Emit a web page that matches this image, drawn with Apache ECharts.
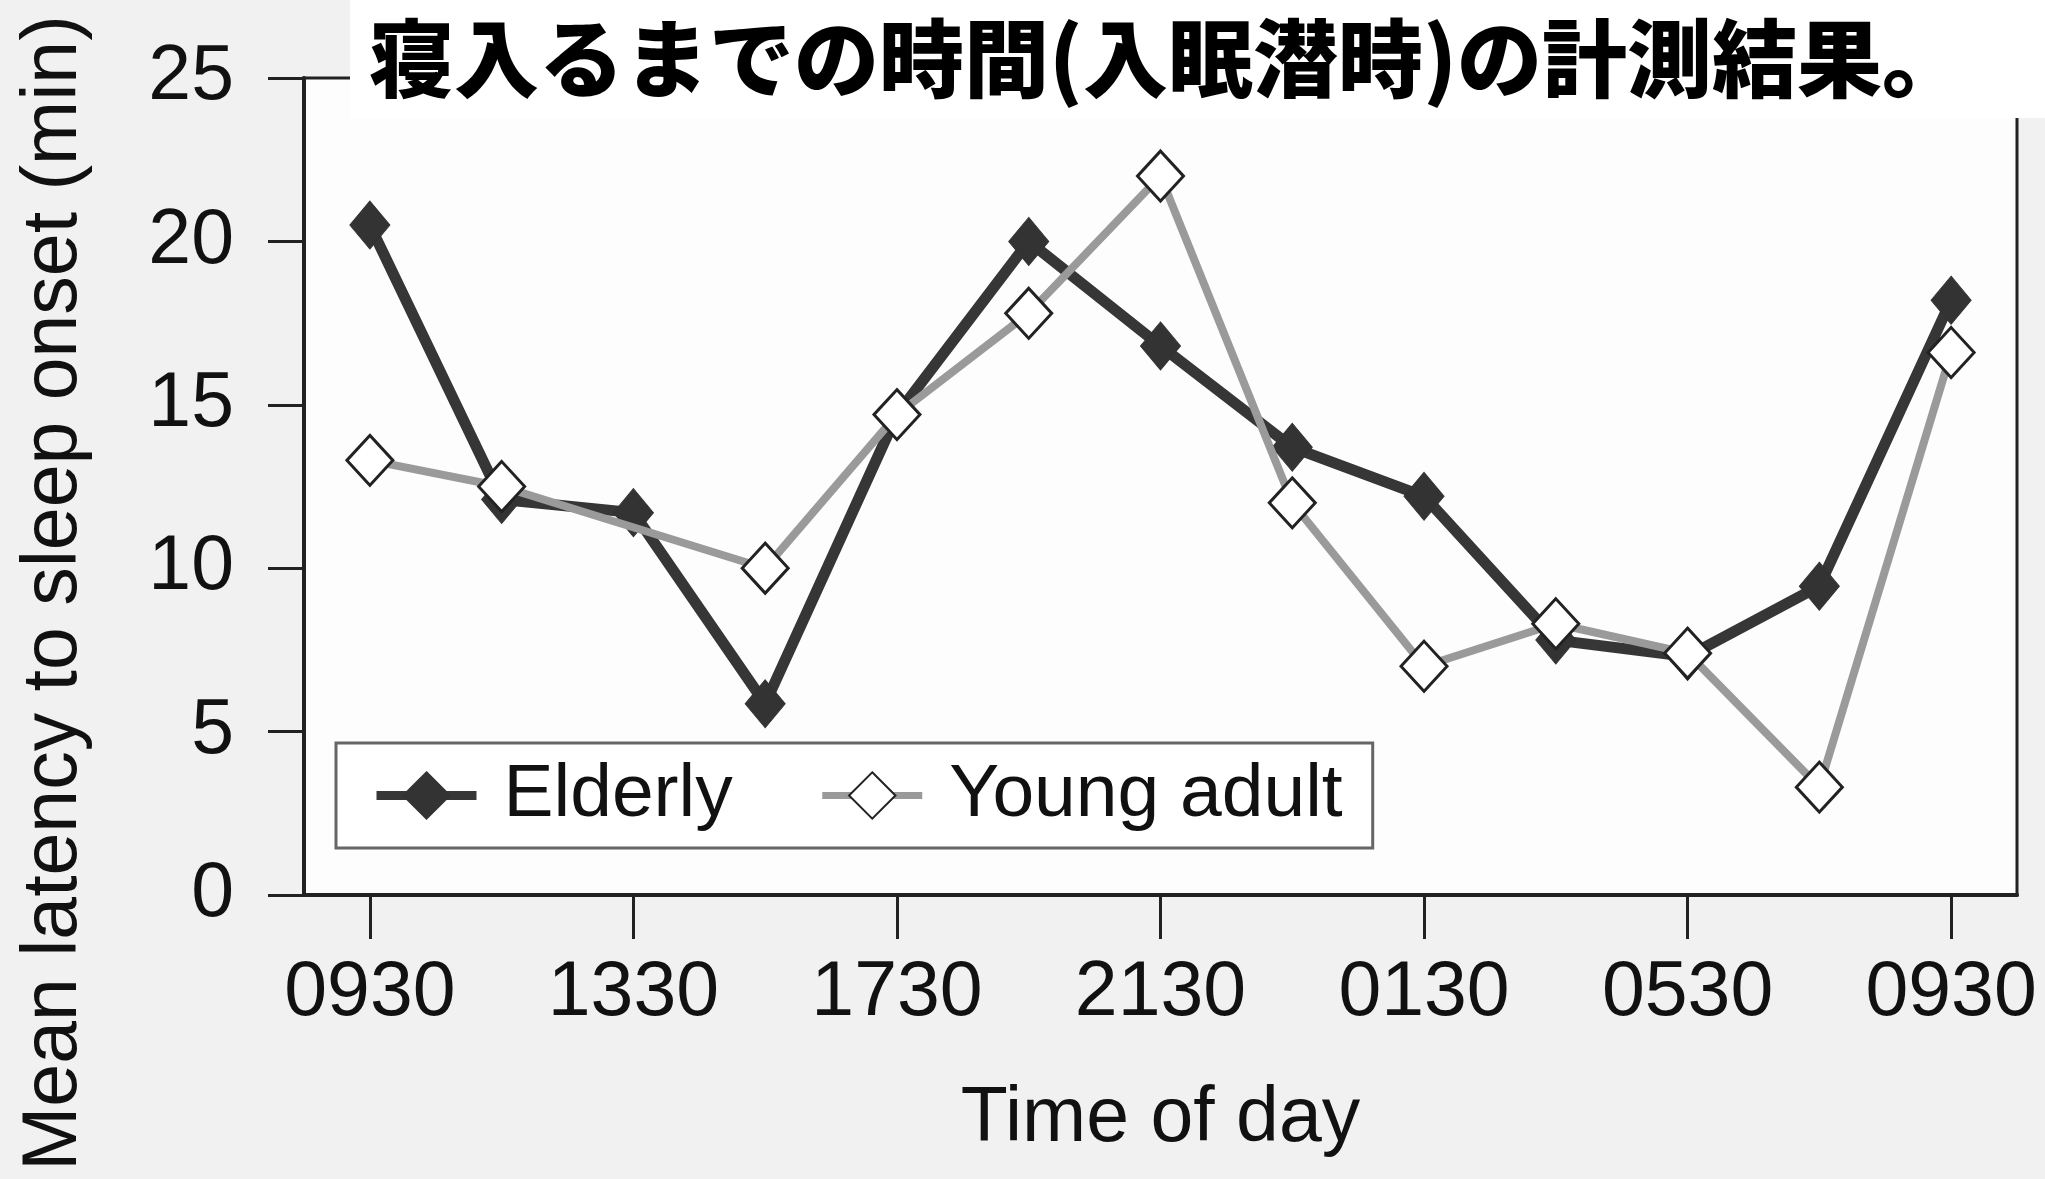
<!DOCTYPE html>
<html>
<head>
<meta charset="utf-8">
<script src="https://cdn.jsdelivr.net/npm/echarts@6/dist/echarts.min.js"></script>
<style>
html,body{margin:0;padding:0;background:#f1f1f1;}
#chart{width:2045px;height:1179px;}
</style>
</head>
<body>
<div id="chart"></div>
<script>
// ---- data ----
const titleText = '寝入るまでの時間(入眠潜時)の計測結果。';
const timeLabels = ['0930','1130','1330','1530','1730','1930','2130','2330','0130','0330','0530','0730','0930'];
const elderly = [20.5, 12.1, 11.7, 5.85, 14.7, 20.0, 16.8, 13.7, 12.2, 7.8, 7.3, 9.45, 18.2];
const youngAdult = [13.3, 12.5, null, 10.0, 14.7, 17.8, 22.0, 12.0, 7.0, 8.3, 7.4, 3.3, 16.6];
const yTicks = { min: 0, max: 25, interval: 5 };
const xAxisName = 'Time of day';
const yAxisName = 'Mean latency to sleep onset (min)';
const seriesNames = ['Elderly', 'Young adult'];

const FONT = '"Liberation Sans", Arial, sans-serif';
const ELDER_COLOR = '#363636';
const YOUNG_COLOR = '#9a9a9a';
const chart = echarts.init(document.getElementById('chart'));
chart.setOption({
  backgroundColor: '#f1f1f1',
  animation: false,
  title: {
    text: titleText,
    left: 350, top: 0,
    padding: [12, 140, 12, 19],
    backgroundColor: '#ffffff',
    textStyle: {
      fontFamily: '"Noto Sans CJK JP", sans-serif',
      fontWeight: 900, fontSize: 85, lineHeight: 94, color: '#000'
    }
  },
  grid: {
    left: 304, right: 28, top: 78, bottom: 284,
    show: true, backgroundColor: '#fdfdfd',
    borderColor: '#222', borderWidth: 3
  },
  legend: {
    left: 336, top: 743,
    padding: [15, 30, 15, 36],
    backgroundColor: '#ffffff',
    borderColor: '#666', borderWidth: 3, borderRadius: 0,
    itemWidth: 100, itemHeight: 58, itemGap: 86,
    textStyle: { fontFamily: FONT, fontSize: 75, color: '#111', padding: [0, 0, 0, 22] },
    data: [
      { name: seriesNames[0], lineStyle: { width: 9, color: ELDER_COLOR } },
      { name: seriesNames[1], lineStyle: { width: 7, color: YOUNG_COLOR } }
    ]
  },
  xAxis: {
    type: 'category',
    data: timeLabels,
    boundaryGap: true,
    name: xAxisName,
    nameLocation: 'middle',
    nameGap: 186,
    nameTextStyle: { fontFamily: FONT, fontSize: 77, color: '#111' },
    axisLine: { lineStyle: { color: '#222', width: 4 } },
    axisTick: { show: true, alignWithLabel: true, interval: 1, length: 44, lineStyle: { color: '#222', width: 3 } },
    axisLabel: { interval: 1, margin: 60, fontFamily: FONT, fontSize: 77, color: '#111' },
    splitLine: { show: false }
  },
  yAxis: {
    type: 'value',
    min: yTicks.min, max: yTicks.max, interval: yTicks.interval,
    axisLine: { show: true, lineStyle: { color: '#222', width: 4 } },
    axisTick: { show: true, length: 36, lineStyle: { color: '#222', width: 3 } },
    axisLabel: { margin: 70, fontFamily: FONT, fontSize: 77, color: '#111' },
    splitLine: { show: false }
  },
  graphic: [{
    type: 'text',
    x: 55, y: 593,
    rotation: Math.PI / 2,
    style: {
      text: yAxisName, fontFamily: FONT, fontSize: 77, fill: '#111',
      align: 'center', verticalAlign: 'middle'
    }
  }],
  series: [
    {
      name: seriesNames[0], type: 'line', data: elderly,
      symbol: 'diamond', symbolSize: [40, 48],
      lineStyle: { color: ELDER_COLOR, width: 11 },
      itemStyle: { color: '#333', borderColor: '#333', borderWidth: 1 },
      z: 2
    },
    {
      name: seriesNames[1], type: 'line', data: youngAdult, connectNulls: true,
      symbol: 'diamond', symbolSize: [46, 50],
      lineStyle: { color: YOUNG_COLOR, width: 8 },
      itemStyle: { color: '#ffffff', borderColor: '#222', borderWidth: 3 },
      z: 3
    }
  ]
});
</script>
</body>
</html>
